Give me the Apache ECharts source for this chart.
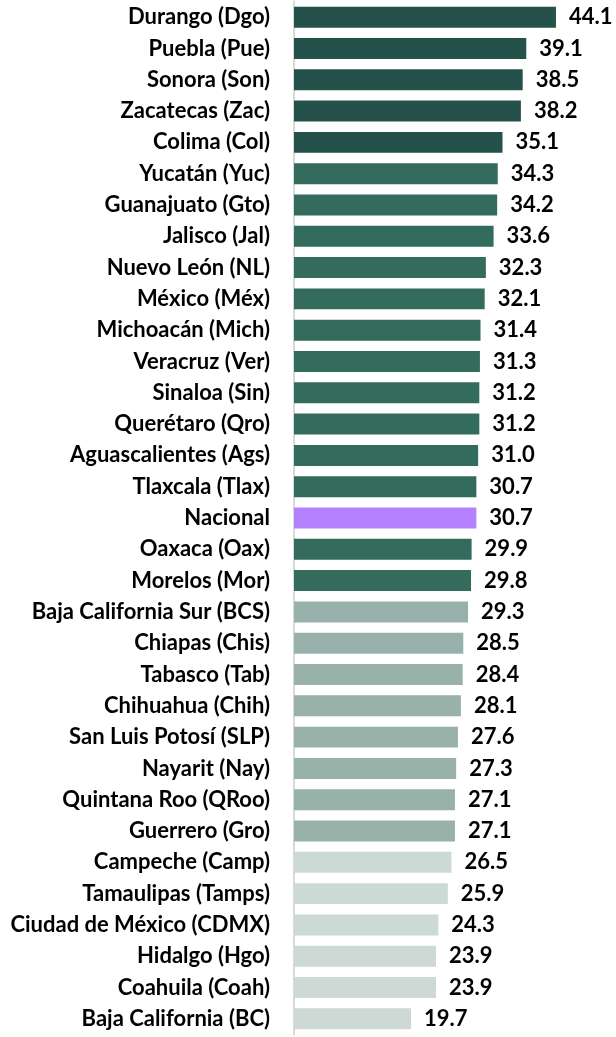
<!DOCTYPE html>
<html>
<head>
<meta charset="utf-8">
<script src="https://cdn.jsdelivr.net/npm/echarts@6/dist/echarts.min.js"></script>
<style>
  html, body { margin: 0; padding: 0; background: #ffffff; }
  #chart { width: 616px; height: 1037px; }
</style>
</head>
<body>
<div id="chart"></div>
<script>
// States, top to bottom
const states = [
  'Durango (Dgo)', 'Puebla (Pue)', 'Sonora (Son)', 'Zacatecas (Zac)', 'Colima (Col)',
  'Yucatán (Yuc)', 'Guanajuato (Gto)', 'Jalisco (Jal)', 'Nuevo León (NL)', 'México (Méx)',
  'Michoacán (Mich)', 'Veracruz (Ver)', 'Sinaloa (Sin)', 'Querétaro (Qro)', 'Aguascalientes (Ags)',
  'Tlaxcala (Tlax)', 'Nacional', 'Oaxaca (Oax)', 'Morelos (Mor)', 'Baja California Sur (BCS)',
  'Chiapas (Chis)', 'Tabasco (Tab)', 'Chihuahua (Chih)', 'San Luis Potosí (SLP)', 'Nayarit (Nay)',
  'Quintana Roo (QRoo)', 'Guerrero (Gro)', 'Campeche (Camp)', 'Tamaulipas (Tamps)', 'Ciudad de México (CDMX)',
  'Hidalgo (Hgo)', 'Coahuila (Coah)', 'Baja California (BC)'
];
const values = [
  44.1, 39.1, 38.5, 38.2, 35.1,
  34.3, 34.2, 33.6, 32.3, 32.1,
  31.4, 31.3, 31.2, 31.2, 31.0,
  30.7, 30.7, 29.9, 29.8, 29.3,
  28.5, 28.4, 28.1, 27.6, 27.3,
  27.1, 27.1, 26.5, 25.9, 24.3,
  23.9, 23.9, 19.7
];
// Colour group for each bar: 0 darkest, 1 medium, 2 light, 3 lightest, 4 national
const groups = [
  0, 0, 0, 0, 0,
  1, 1, 1, 1, 1,
  1, 1, 1, 1, 1,
  1, 4, 1, 1, 2,
  2, 2, 2, 2, 2,
  2, 2, 3, 3, 3,
  3, 3, 3
];
const palette = ['#24524a', '#336b5d', '#98b1ab', '#ccd9d5', '#b482ff'];

const chart = echarts.init(document.getElementById('chart'));
chart.setOption({
  animation: false,
  grid: { left: 294, right: 25, top: 1.5, bottom: 2.5, containLabel: false },
  xAxis: {
    type: 'value', min: 0, max: 50, show: false
  },
  yAxis: {
    type: 'category',
    data: states,
    inverse: true,
    axisLine: { show: true, lineStyle: { color: '#d9d9d9', width: 2 } },
    axisTick: { show: false },
    axisLabel: {
      margin: 24,
      color: '#000000',
      fontFamily: 'Lato',
      fontWeight: 'bold',
      fontSize: 22
    }
  },
  series: [{
    type: 'bar',
    barCategoryGap: '33%',
    data: values.map((v, i) => ({ value: v, itemStyle: { color: palette[groups[i]] } })),
    label: {
      show: true,
      position: 'right',
      distance: 13,
      color: '#000000',
      fontFamily: 'Lato',
      fontWeight: 'bold',
      fontSize: 22,
      formatter: p => p.value.toFixed(1)
    }
  }]
});
</script>
</body>
</html>
